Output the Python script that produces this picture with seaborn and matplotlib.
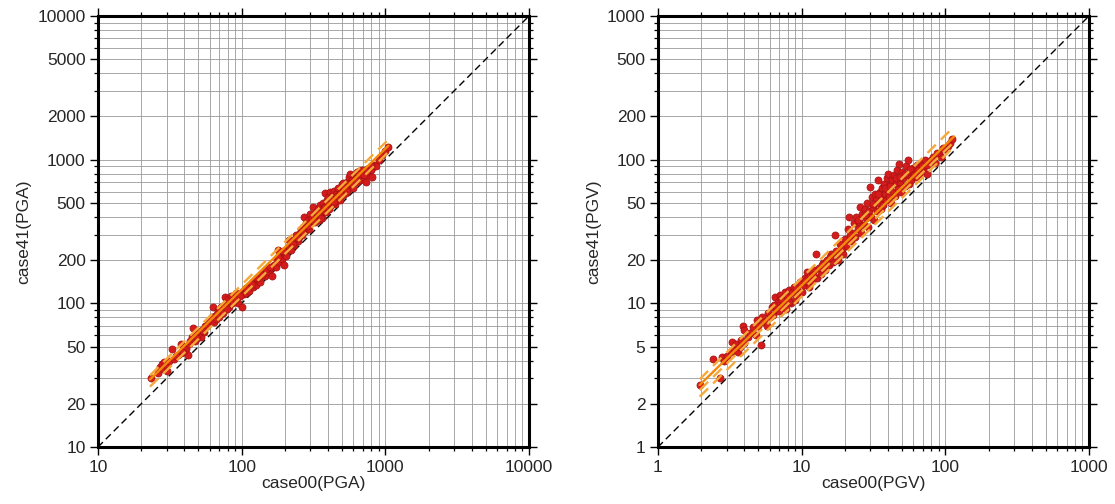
import numpy as np
import pandas as pd
import matplotlib
matplotlib.use("Agg")
import matplotlib.pyplot as plt
import matplotlib.ticker as mticker
import seaborn as sns

# ---------------- data ----------------
pga_x = [23.5, 26, 27, 28, 28.5, 29, 30, 30, 31, 33, 34, 36, 38, 38, 40, 41, 42, 43, 44, 45,
         46, 47, 48, 50, 52, 53, 55, 56, 58, 60,
         62, 63, 64, 65, 66, 68, 70, 70, 72, 73, 75, 76, 78, 80, 80, 82, 84, 85, 86, 88,
         90, 92, 94, 95, 97, 100, 100, 103, 105, 108, 110, 113, 116, 120, 123, 126, 130, 135, 140, 145, 150,
         155, 160, 162, 168, 172, 175, 180, 182, 186, 190, 196, 200, 203, 208, 212, 215, 220, 225, 230, 235,
         240, 245, 250, 255, 258, 262, 268, 270, 275, 280, 285, 290, 295, 300, 305, 310,
         315, 320, 325, 330, 335, 340, 345, 350, 355, 360, 365, 370, 375, 380, 385, 390, 395, 400, 405, 410,
         415, 420, 425, 430, 440, 445, 450, 460, 470, 475, 480, 490, 500, 505, 510, 520, 530, 540, 550, 560,
         570, 580, 590, 600,
         610, 620, 630, 640, 650, 660, 670, 680, 690, 700, 720, 730, 740, 760, 780, 800, 810, 830, 860, 900,
         950, 1000, 1050,
         35, 39, 49, 54, 57, 67, 74, 79, 87, 91, 98, 107, 118, 128, 138, 148, 158, 178, 194, 228,
         248, 265, 288, 318, 338, 358, 378, 398, 418, 438, 458, 485, 515, 545, 575, 625, 655, 710, 750, 790]
pga_y = [30, 33, 36, 38, 35, 39, 37, 34, 40, 48, 41, 44, 45, 52, 50, 48, 44, 52, 55, 58,
         67, 55, 60, 62, 58, 65, 63, 70, 72, 75,
         80, 95, 74, 82, 78, 90, 88, 80, 95, 85, 98, 110, 92, 100, 108, 95, 112, 105, 100, 110,
         104, 118, 112, 100, 115, 95, 120, 116, 125, 118, 130, 122, 135, 130, 140, 134, 148, 140, 160, 155, 170,
         165, 175, 155, 185, 180, 200, 236, 195, 210, 205, 185, 225, 215, 240, 277, 250, 235, 265, 255, 280,
         300, 270, 290, 310, 330, 300, 340, 400, 320, 360, 350, 380, 330, 420, 360, 390,
         470, 410, 370, 430, 400, 450, 380, 480, 420, 440, 395, 500, 460, 585, 430, 520, 470, 550, 450, 600,
         500, 480, 560, 530, 610, 490, 580, 540, 640, 560, 520, 600, 680, 570, 686, 620, 590, 700, 650, 760,
         800, 680, 720, 640,
         780, 740, 820, 700, 760, 830, 720, 790, 850, 760, 810, 700, 860, 780, 880, 850, 760, 920, 900, 1000,
         1080, 1150, 1230,
         43, 46, 57, 64, 70, 84, 86, 92, 102, 108, 112, 128, 136, 150, 158, 172, 180, 210, 232, 260,
         285, 320, 345, 375, 425, 395, 470, 500, 530, 505, 560, 575, 640, 610, 690, 720, 800, 780, 830, 900]

pgv_x = [1.95, 2.4, 2.7, 2.8, 2.9, 3.0, 3.2, 3.3, 3.4, 3.5, 3.6, 3.7, 3.8, 3.9, 4.0, 4.0, 4.2, 4.4, 4.6, 4.8,
         4.9, 5.0, 5.2, 5.3, 5.5, 5.7, 5.8, 6.0, 6.2, 6.3, 6.5, 6.6, 6.8, 7.0, 7.1, 7.3, 7.5, 7.7, 7.8, 8.0,
         8.2, 8.4, 8.6, 8.8, 9.0, 9.3, 9.5, 9.8, 10, 10.3, 10.6, 10.9, 11.2, 11.5, 11.8, 12.1, 12.5, 12.8, 13.2, 13.6,
         14, 14.5, 15, 15.5, 16, 16.5, 17, 17.3, 17.8, 18, 18.5, 19, 19.5, 20, 20.5, 21, 21.5, 22, 22.5, 23,
         23.5, 24, 24.5, 25, 25.5, 26, 26.5, 27, 27.5, 28, 28.5, 29, 29.5, 30, 30.5, 31, 31.5, 32, 32.5, 33,
         33.5, 34, 34.5, 35, 35.5, 36, 36.5, 37, 37.5, 38, 38.5, 39, 39.5, 40, 40.5, 41, 42, 42.5, 43, 44,
         44.5, 45, 46, 46.5, 47.5, 48, 49, 50, 51, 52, 53, 54, 55, 56, 57, 58, 60, 62, 64, 66,
         68, 70, 72, 75, 78, 82, 85, 90, 94, 98, 104, 108, 112,
         6.4, 7.2, 8.1, 9.1, 10.5, 11.9, 13.9, 15.8, 18.8, 21.8, 24.8, 27.8, 31.2, 34.2, 37.8, 41.5, 45.5,
         48.5, 52.5, 56.5, 61, 65, 69, 74, 80, 88, 96]
pgv_y = [2.7, 4.1, 3.0, 4.2, 4.0, 4.3, 4.6, 5.4, 4.8, 5.2, 4.6, 5.0, 5.6, 7.0, 6.5, 5.3, 5.8, 6.2, 6.8, 6.0,
         7.6, 7.0, 5.1, 8.0, 7.4, 7.0, 8.5, 8.0, 9.5, 8.3, 11, 9.0, 10.2, 8.8, 11.5, 9.6, 10.5, 12, 9.2, 11,
         12.3, 10, 11.8, 13, 10.5, 12.5, 11.5, 14, 12, 13.5, 15, 16.6, 13, 15.5, 14.2, 17, 22, 15, 17.5, 16,
         19, 17, 20, 18.5, 22, 19.5, 30, 23, 21, 20, 26, 24, 22, 28, 25, 33, 40, 27, 31, 36,
         29, 40, 33, 37, 47, 31, 42, 35, 45, 39, 50, 34, 44, 65, 40, 55, 47, 38, 58, 52,
         44, 72, 50, 60, 45, 64, 54, 48, 68, 58, 52, 75, 62, 80, 55, 67, 50, 72, 60, 78,
         56, 68, 85, 62, 94, 70, 60, 82, 74, 66, 90, 78, 99, 68, 84, 72, 88, 76, 92, 80,
         95, 86, 100, 80, 98, 105, 95, 110, 104, 118, 125, 130, 140,
         9.8, 10.8, 10.2, 12.8, 14.2, 15.8, 18.5, 21, 24, 30, 38, 41, 49, 58, 63, 66, 74,
         76, 80, 86, 78, 85, 90, 92, 100, 112, 120]

# fitted lines: x range, centre, upper and lower bands
pga_fit_x = [23, 1050]
pga_fit_y = [29.5, 1250]
pga_up_y = [31.5, 1380]
pga_lo_y = [26.3, 1130]

pgv_fit_x = [1.95, 115]
pgv_fit_y = [2.70, 145]
pgv_up_y = [2.96, 170]
pgv_lo_y = [2.49, 133]
pgv_lo2_y = [2.24, 123]

pga_xticks = [10, 100, 1000, 10000]
pga_yticks = [10, 20, 50, 100, 200, 500, 1000, 2000, 5000, 10000]
pgv_xticks = [1, 10, 100, 1000]
pgv_yticks = [1, 2, 5, 10, 20, 50, 100, 200, 500, 1000]

# ---------------- styling ----------------
sns.set_theme(style="ticks")
plt.rcParams['font.family'] = ['Liberation Sans', 'DejaVu Sans']

PT_FILL = "#d41c1c"
PT_EDGE = "#a31212"
FIT_C = "#f28a0c"
BAND_C = "#f5a93a"

fig = plt.figure(figsize=(11.15, 5.04), dpi=100)
W, H = 1115, 504
ax1 = fig.add_axes([98 / W, 57 / H, 431 / W, 431 / H])
ax2 = fig.add_axes([658 / W, 57 / H, 431 / W, 431 / H])


def all_positions(lo, hi):
    pos = []
    d = lo
    while d < hi:
        for m in range(1, 10):
            pos.append(m * d)
        d *= 10
    pos.append(hi)
    return pos


def setup(ax, lo, hi, xt, yt, xlabel, ylabel):
    ax.set_xscale("log")
    ax.set_yscale("log")
    ax.set_xlim(lo, hi)
    ax.set_ylim(lo, hi)
    allp = all_positions(lo, hi)
    ax.xaxis.set_major_locator(mticker.FixedLocator(xt))
    ax.yaxis.set_major_locator(mticker.FixedLocator(yt))
    ax.xaxis.set_minor_locator(mticker.FixedLocator([p for p in allp if p not in xt]))
    ax.yaxis.set_minor_locator(mticker.FixedLocator([p for p in allp if p not in yt]))
    ax.xaxis.set_major_formatter(mticker.FuncFormatter(lambda v, p: f"{v:g}"))
    ax.yaxis.set_major_formatter(mticker.FuncFormatter(lambda v, p: f"{v:g}"))
    ax.xaxis.set_minor_formatter(mticker.NullFormatter())
    ax.yaxis.set_minor_formatter(mticker.NullFormatter())
    ax.tick_params(which="both", direction="out", top=True, right=True,
                   labeltop=False, labelright=False, color="black", labelsize=12.5)
    ax.tick_params(which="major", length=6, width=1.0, pad=3)
    ax.tick_params(which="minor", length=3, width=0.9)
    for s in ax.spines.values():
        s.set_linewidth(2.2)
        s.set_color("black")
    ax.grid(which="both", color="#9a9a9a", linewidth=0.6, zorder=0)
    ax.set_axisbelow(True)
    ax.set_xlabel(xlabel, fontsize=12.5, labelpad=1)
    ax.set_ylabel(ylabel, fontsize=12.5, labelpad=4)
    ax.set_facecolor("white")


def draw(ax, lo, hi, px, py, fx, fy, bands):
    sns.lineplot(x=[lo, hi], y=[lo, hi], ax=ax, color="black", linewidth=1.0,
                 linestyle=(0, (5, 3)), zorder=2)
    df = pd.DataFrame({"x": px, "y": py})
    sns.scatterplot(data=df, x="x", y="y", ax=ax, s=26, color=PT_FILL,
                    edgecolor=PT_EDGE, linewidth=0.5, zorder=3, legend=False)
    for by in bands:
        sns.lineplot(x=fx, y=by, ax=ax, color=BAND_C, linewidth=1.7,
                     linestyle=(0, (5, 3)), zorder=4)
    sns.lineplot(x=fx, y=fy, ax=ax, color=FIT_C, linewidth=1.7, zorder=5)


setup(ax1, 10, 10000, pga_xticks, pga_yticks, "case00(PGA)", "case41(PGA)")
draw(ax1, 10, 10000, pga_x, pga_y, pga_fit_x, pga_fit_y, [pga_up_y, pga_lo_y])
setup(ax2, 1, 1000, pgv_xticks, pgv_yticks, "case00(PGV)", "case41(PGV)")
draw(ax2, 1, 1000, pgv_x, pgv_y, pgv_fit_x, pgv_fit_y, [pgv_up_y, pgv_lo_y, pgv_lo2_y])

for ax, lo, hi in [(ax1, 10, 10000), (ax2, 1, 1000)]:
    ax.set_xlim(lo, hi)
    ax.set_ylim(lo, hi)

fig.savefig("out.png", dpi=100, facecolor="white")
